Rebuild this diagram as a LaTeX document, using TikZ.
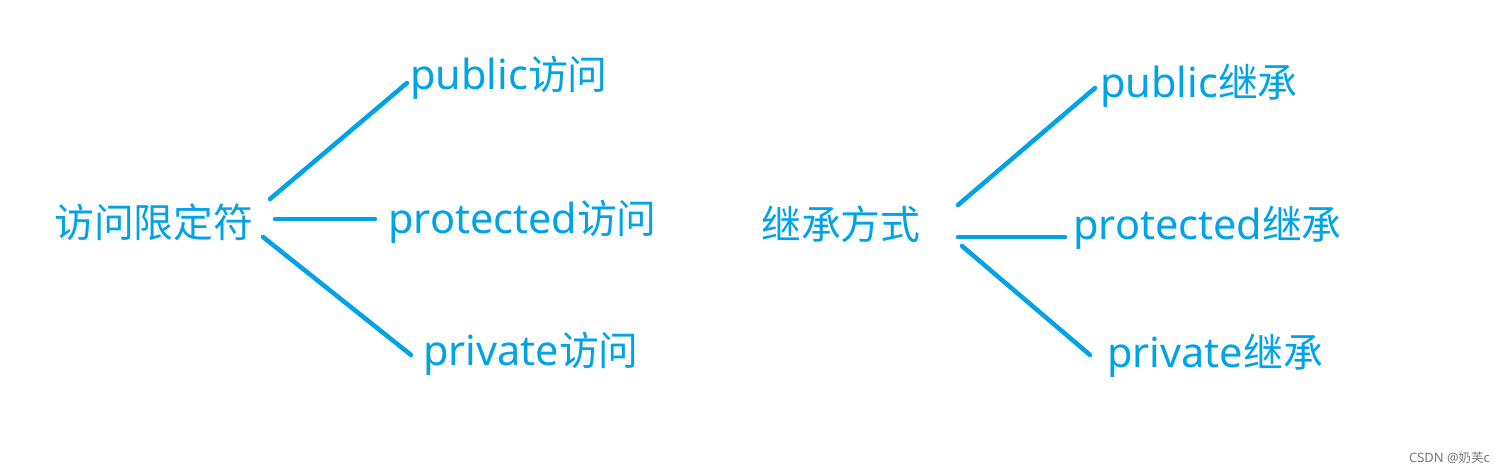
\documentclass[tikz,border=0pt]{standalone}
\usepackage{fontspec}
\setmainfont{Noto Sans}[Scale=1.04]
\newfontfamily\cjk{Noto Sans CJK SC}
\definecolor{paintblue}{RGB}{0,162,232}
\definecolor{wmgray}{RGB}{120,120,120}
\begin{document}
\begin{tikzpicture}[x=1bp,y=-1bp,
  lbl/.style={anchor=base west,inner sep=0pt,text=paintblue,font=\fontsize{40}{44}\selectfont},
  conn/.style={draw=paintblue,line width=4.5bp,line cap=round}]
\useasboundingbox[fill=white] (0,0) rectangle (1505,473);
% left tree
\node[lbl] (root1) at (54,238) {\cjk 访问限定符};
\node[lbl] (pub1) at (410,90) {public\cjk 访问};
\node[lbl] (pro1) at (388,234) {protected\cjk 访问};
\node[lbl] (pri1) at (423,366) {private\cjk 访问};
\coordinate (a1) at (270,199);
\coordinate (a2) at (275,219);
\coordinate (a3) at (263,237);
\coordinate (b1) at (407,83);
\coordinate (b2) at (375,219);
\coordinate (b3) at (411,355);
\draw[conn] (a1) -- (b1);
\draw[conn] (a2) -- (b2);
\draw[conn] (a3) -- (b3);
% right tree
\node[lbl] (root2) at (761,240) {\cjk 继承方式};
\node[lbl] (pub2) at (1100,98) {public\cjk 继承};
\node[lbl] (pro2) at (1073,240) {protected\cjk 继承};
\node[lbl] (pri2) at (1107,368) {private\cjk 继承};
\coordinate (c1) at (958,205);
\coordinate (c2) at (958,237);
\coordinate (c3) at (962,246);
\coordinate (d1) at (1095,88);
\coordinate (d2) at (1065,237);
\coordinate (d3) at (1090,355);
\draw[conn] (c1) -- (d1);
\draw[conn] (c2) -- (d2);
\draw[conn] (c3) -- (d3);
% watermark
\node[anchor=base east,inner sep=0pt,text=wmgray,font=\fontsize{12.5}{14}\selectfont] (wm) at (1490,462) {CSDN @\cjk 奶芙\normalfont c};
\end{tikzpicture}
\end{document}
